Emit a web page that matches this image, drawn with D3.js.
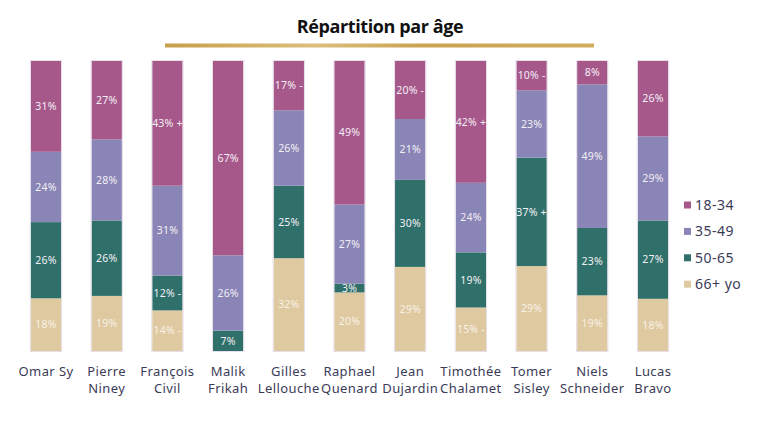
<!DOCTYPE html>
<html>
<head>
<meta charset="utf-8">
<script src="https://cdn.jsdelivr.net/npm/d3@7"></script>
<style>
  body { margin: 0; background: #fff; }
  svg { display: block; }
</style>
</head>
<body>
<div id="chart"></div>
<script>
// Chart data
const actors = ["Omar Sy", "Pierre Niney", "François Civil", "Malik Frikah", "Gilles Lellouche",
  "Raphael Quenard", "Jean Dujardin", "Timothée Chalamet", "Tomer Sisley", "Niels Schneider", "Lucas Bravo"];
// how each name is broken over lines under its bar
const actorLines = [["Omar Sy"], ["Pierre", "Niney"], ["François", "Civil"], ["Malik", "Frikah"],
  ["Gilles", "Lellouche"], ["Raphael", "Quenard"], ["Jean", "Dujardin"], ["Timothée", "Chalamet"],
  ["Tomer", "Sisley"], ["Niels", "Schneider"], ["Lucas", "Bravo"]];
const ageGroups = ["66+ yo", "50-65", "35-49", "18-34"];
const age18_34 = [31, 27, 43, 67, 17, 49, 20, 42, 10, 8, 26];
const age35_49 = [24, 28, 31, 26, 26, 27, 21, 24, 23, 49, 29];
const age50_65 = [26, 26, 12, 7, 25, 3, 30, 19, 37, 23, 27];
const age66 = [18, 19, 14, 0, 32, 20, 29, 15, 29, 19, 18];
// "+" / "-" marks shown after some percentages
const marks18_34 = ["", "", "+", "", "-", "", "-", "+", "-", "", ""];
const marks35_49 = ["", "", "", "", "", "", "", "", "", "", ""];
const marks50_65 = ["", "", "-", "", "", "", "", "", "+", "", ""];
const marks66 = ["", "", "-", "", "", "", "", "-", "", "", ""];

const values = { "18-34": age18_34, "35-49": age35_49, "50-65": age50_65, "66+ yo": age66 };
const marks = { "18-34": marks18_34, "35-49": marks35_49, "50-65": marks50_65, "66+ yo": marks66 };
const colors = { "18-34": "#a6588b", "35-49": "#8985b6", "50-65": "#2f716a", "66+ yo": "#dfc9a0" };

const width = 765, height = 427;

const svg = d3.select("#chart").append("svg")
  .attr("width", width)
  .attr("height", height);

// gold underline gradient
const grad = svg.append("defs").append("linearGradient")
  .attr("id", "gold").attr("x1", "0%").attr("x2", "100%");
grad.append("stop").attr("offset", "0%").attr("stop-color", "#c79f4a");
grad.append("stop").attr("offset", "35%").attr("stop-color", "#dcbf7c");
grad.append("stop").attr("offset", "60%").attr("stop-color", "#c9a352");
grad.append("stop").attr("offset", "100%").attr("stop-color", "#d2ad5e");

svg.append("text")
  .attr("x", 380)
  .attr("y", 33)
  .attr("text-anchor", "middle")
  .attr("font-family", "'Open Sans', sans-serif")
  .attr("font-weight", "bold")
  .attr("font-size", "18px")
  .attr("letter-spacing", "-0.4px")
  .attr("fill", "#111")
  .text("Répartition par âge");

svg.append("rect")
  .attr("x", 165).attr("y", 43.5)
  .attr("width", 429).attr("height", 4)
  .attr("fill", "url(#gold)");

const x = d3.scaleBand()
  .domain(actors)
  .range([0.5, 698.5])
  .paddingInner(0.5)
  .paddingOuter(0.5);

const y = d3.scaleLinear().domain([0, 1]).range([351, 61]);

const rows = actors.map((name, i) => {
  const row = { name: name };
  ageGroups.forEach(g => { row[g] = values[g][i]; });
  return row;
});

const series = d3.stack()
  .keys(ageGroups)
  .offset(d3.stackOffsetExpand)(rows);

const groups = svg.selectAll("g.series")
  .data(series)
  .enter().append("g")
  .attr("class", "series")
  .attr("fill", d => colors[d.key]);

groups.selectAll("rect")
  .data(d => d)
  .enter().append("rect")
  .attr("x", d => x(d.data.name))
  .attr("y", d => y(d[1]))
  .attr("width", x.bandwidth())
  .attr("height", d => y(d[0]) - y(d[1]));

// faint outline round each bar
svg.selectAll("rect.outline")
  .data(actors)
  .enter().append("rect")
  .attr("class", "outline")
  .attr("x", d => x(d) - 0.5)
  .attr("y", y(1) - 0.5)
  .attr("width", x.bandwidth() + 1)
  .attr("height", y(0) - y(1) + 1)
  .attr("fill", "none")
  .attr("stroke", "#e6deea")
  .attr("stroke-width", 1);

// value labels
series.forEach(s => {
  svg.selectAll("text.v" + ageGroups.indexOf(s.key))
    .data(s.filter((d, i) => values[s.key][i] > 0))
    .enter().append("text")
    .attr("x", d => x(d.data.name) + x.bandwidth() / 2)
    .attr("y", d => (y(d[0]) + y(d[1])) / 2 + 3.7)
    .attr("text-anchor", "middle")
    .attr("font-family", "'Noto Sans', sans-serif")
    .attr("font-size", "10.5px")
    .attr("letter-spacing", "0.2px")
    .attr("fill", s.key === "66+ yo" ? "#f7f1e6" : "#f4eef5")
    .text(d => {
      const i = actors.indexOf(d.data.name);
      const m = marks[s.key][i];
      return values[s.key][i] + "%" + (m ? " " + m : "");
    });
});

// category labels
const catLabels = svg.selectAll("text.cat")
  .data(actors)
  .enter().append("text")
  .attr("class", "cat")
  .attr("text-anchor", "middle")
  .attr("font-family", "'Noto Sans', sans-serif")
  .attr("font-size", "13px")
  .attr("letter-spacing", "0.4px")
  .attr("fill", "#3b3b58");

catLabels.selectAll("tspan")
  .data((d, i) => actorLines[i].map(t => ({ name: d, text: t })))
  .enter().append("tspan")
  .attr("x", d => x(d.name) + x.bandwidth() / 2)
  .attr("y", (d, i) => 376 + i * 17)
  .text(d => d.text);

// legend
const legendKeys = ["18-34", "35-49", "50-65", "66+ yo"];
const legend = svg.selectAll("g.legend")
  .data(legendKeys)
  .enter().append("g")
  .attr("class", "legend")
  .attr("transform", (d, i) => `translate(684, ${205 + i * 26.4})`);

legend.append("rect")
  .attr("x", 0).attr("y", -3.5)
  .attr("width", 7).attr("height", 7)
  .attr("fill", d => colors[d]);

legend.append("text")
  .attr("x", 11).attr("y", 5)
  .attr("font-family", "'Noto Sans', sans-serif")
  .attr("font-size", "14px")
  .attr("letter-spacing", "0.5px")
  .attr("fill", "#3b3b58")
  .text(d => d);
</script>
</body>
</html>
